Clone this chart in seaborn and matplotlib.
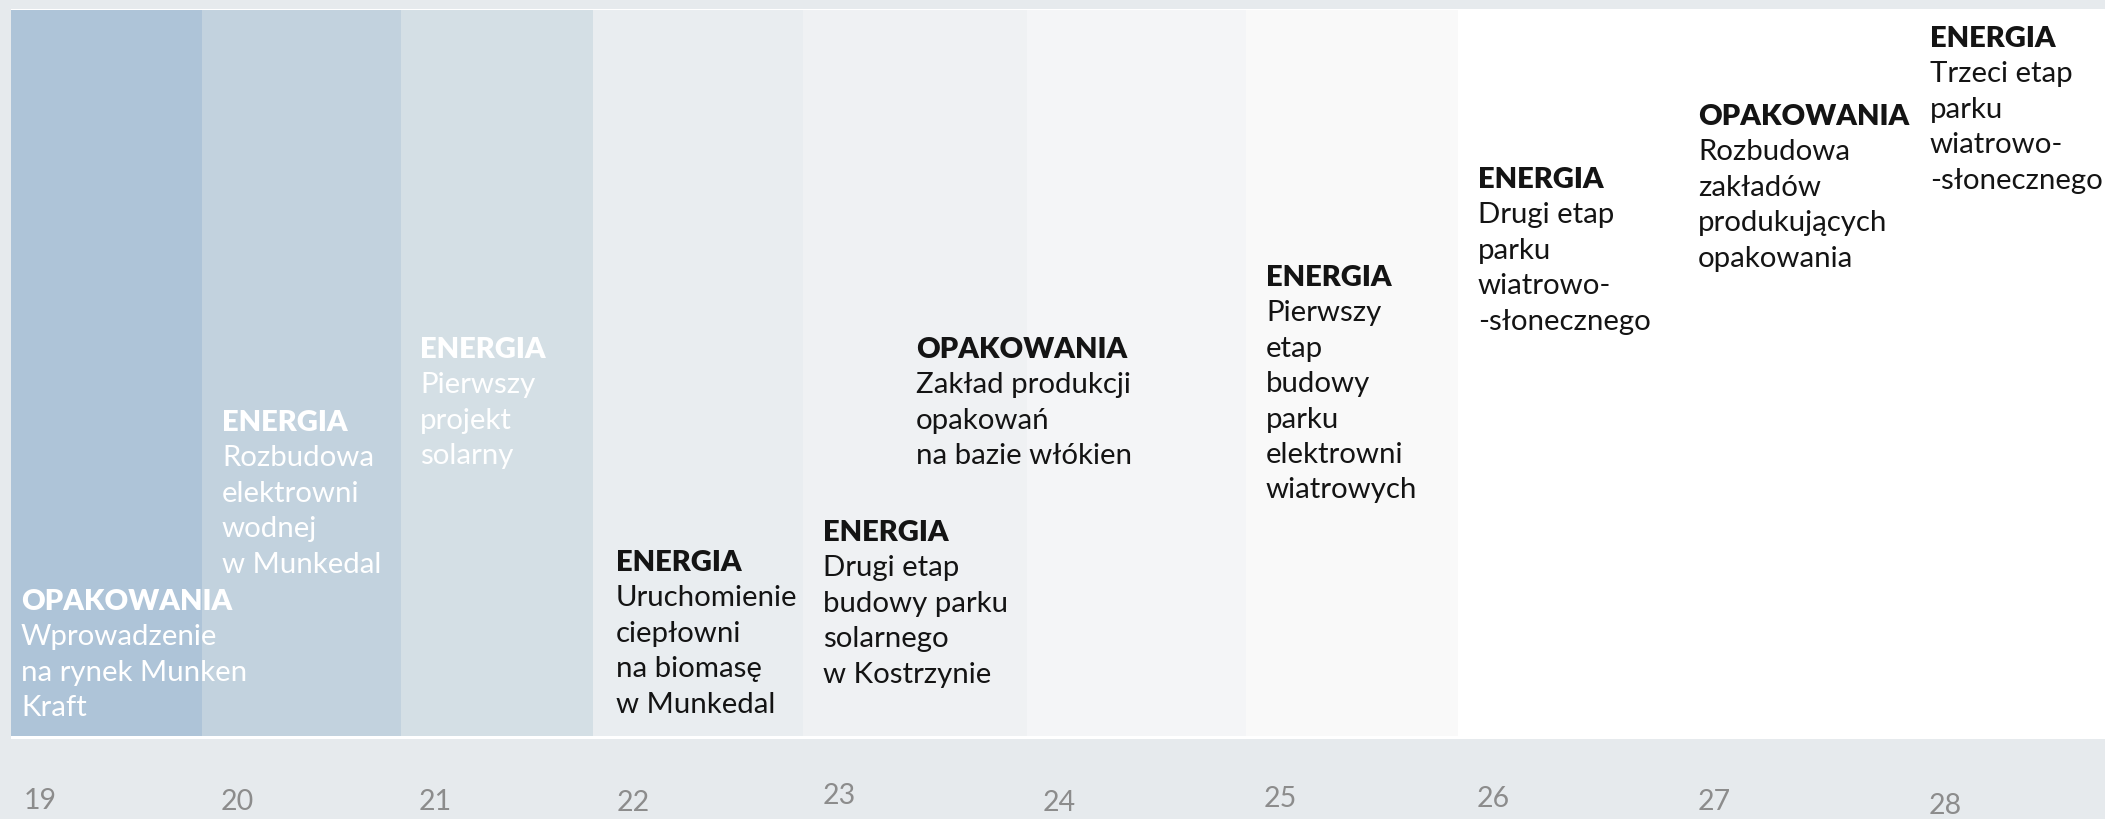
import seaborn as sns
import matplotlib.pyplot as plt

# timeline data
years = ['19', '20', '21', '22', '23', '24', '25', '26', '27', '28']
year_x = [24, 221, 419, 617, 823, 1043, 1264, 1477, 1698, 1929]
year_y = [801, 802, 802, 803, 796, 803, 799, 799, 802, 806]

band_left = [11, 202, 401, 593, 803, 1027, 1246]
band_right = [202, 401, 593, 803, 1027, 1246, 1458]
band_colors = ['#aec4d8', '#c2d2de', '#d4dfe5', '#e9edf0', '#eff1f3', '#f4f5f7', '#f9f9f9']

headers = ['OPAKOWANIA', 'ENERGIA', 'ENERGIA', 'ENERGIA', 'ENERGIA',
           'OPAKOWANIA', 'ENERGIA', 'ENERGIA', 'OPAKOWANIA', 'ENERGIA']
descriptions = [
    ['Wprowadzenie', 'na rynek Munken', 'Kraft'],
    ['Rozbudowa', 'elektrowni', 'wodnej', 'w Munkedal'],
    ['Pierwszy', 'projekt', 'solarny'],
    ['Uruchomienie', 'ciepłowni', 'na biomasę', 'w Munkedal'],
    ['Drugi etap', 'budowy parku', 'solarnego', 'w Kostrzynie'],
    ['Zakład produkcji', 'opakowań', 'na bazie włókien'],
    ['Pierwszy', 'etap', 'budowy', 'parku', 'elektrowni', 'wiatrowych'],
    ['Drugi etap', 'parku', 'wiatrowo-', '-słonecznego'],
    ['Rozbudowa', 'zakładów', 'produkujących', 'opakowania'],
    ['Trzeci etap', 'parku', 'wiatrowo-', '-słonecznego'],
]
label_x = [21, 222, 420, 616, 823, 916, 1266, 1478, 1698, 1930]
label_y = [600, 421, 348, 561, 531, 348, 276, 178, 115, 37]
label_colors = ['white'] * 3 + ['#141414'] * 7

sns.set_theme(style='white')
plt.rcParams['font.family'] = ['Lato', 'DejaVu Sans']

fig = plt.figure(figsize=(21.05, 8.19), dpi=100, facecolor='#e6eaed')
ax = fig.add_axes([0, 0, 1, 1])
ax.set_facecolor('#e6eaed')
ax.set_xlim(0, 2105)
ax.set_ylim(819, 0)
ax.axis('off')

# white panel behind the bands
ax.bar(11, 730, bottom=9, width=2094, align='edge', color='white', linewidth=0)

widths = [r - l for l, r in zip(band_left, band_right)]
ax.bar(band_left, 726, bottom=10, width=widths, align='edge',
       color=band_colors, linewidth=0)

step = 35.4
for x, y, head, lines, c in zip(label_x, label_y, headers, descriptions, label_colors):
    base = y + 10
    ax.text(x, base, head, color=c, fontsize=21, fontweight='heavy', va='baseline')
    for k, line in enumerate(lines, start=1):
        ax.text(x, base + step * k, line, color=c, fontsize=21.2,
                fontweight='normal', va='baseline')

for x, y, yr in zip(year_x, year_y, years):
    ax.text(x, y, yr, color='#8c8c8c', fontsize=20.5, fontweight='normal', va='center')

fig.savefig('out.png', dpi=100, facecolor=fig.get_facecolor())
